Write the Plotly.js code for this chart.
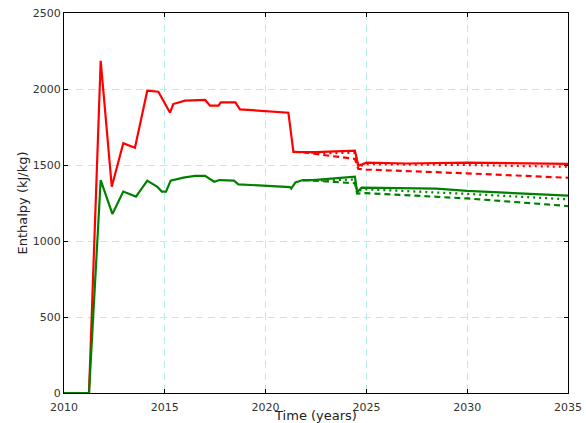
<!DOCTYPE html>
<html>
<head>
<meta charset="utf-8">
<script src="https://cdn.plot.ly/plotly-3.0.1.min.js"></script>
<style>html,body{margin:0;padding:0;background:#fff}#chart{width:586px;height:423px}</style>
</head>
<body>
<div id="chart"></div>
<script>
// Red solid (upper) series
const redYears = [2010, 2011.24, 2011.82, 2012.37, 2012.94, 2013.52, 2014.13, 2014.68, 2015.26, 2015.42, 2016.0, 2017.0, 2017.24, 2017.66, 2017.78, 2018.5, 2018.73, 2021.13, 2021.38, 2022.5, 2024.43, 2024.6, 2025.01, 2027, 2030, 2035];
const redVals  = [0, 0, 2186, 1357, 1643, 1614, 1989, 1982, 1844, 1901, 1923, 1928, 1890, 1890, 1912, 1912, 1866, 1844, 1586, 1585, 1594, 1495, 1515, 1510, 1515, 1508];
// Red dotted scenario
const redDotYears = [2021.38, 2022.0, 2023.0, 2024.43, 2024.6, 2025.0, 2030, 2035];
const redDotVals  = [1586, 1584, 1578, 1580, 1492, 1505, 1500, 1488];
// Red dashed scenario
const redDashYears = [2021.38, 2022.0, 2022.85, 2024.43, 2024.6, 2025.0, 2030, 2035];
const redDashVals  = [1586, 1582, 1566, 1540, 1474, 1470, 1445, 1416];

// Green solid (lower) series
const greenYears = [2010, 2011.24, 2011.82, 2012.4, 2012.94, 2013.57, 2014.13, 2014.63, 2014.85, 2015.06, 2015.29, 2015.92, 2016.5, 2017.0, 2017.45, 2017.71, 2018.43, 2018.65, 2021.21, 2021.27, 2021.48, 2021.85, 2022.34, 2024.43, 2024.54, 2024.76, 2028.48, 2030, 2035];
const greenVals  = [0, 0, 1401, 1178, 1325, 1292, 1397, 1357, 1325, 1325, 1397, 1417, 1428, 1428, 1390, 1401, 1397, 1373, 1355, 1345, 1386, 1401, 1401, 1423, 1320, 1351, 1345, 1330, 1298];
// Green dotted scenario
const greenDotYears = [2021.85, 2022.34, 2023.0, 2024.43, 2024.54, 2025.0, 2030, 2035];
const greenDotVals  = [1401, 1400, 1398, 1405, 1330, 1340, 1310, 1274];
// Green dashed scenario
const greenDashYears = [2021.85, 2022.34, 2023.0, 2024.43, 2024.54, 2025.0, 2030, 2035];
const greenDashVals  = [1401, 1398, 1392, 1380, 1312, 1315, 1280, 1230];

const RED = '#ff0000', GREEN = '#008000';
function tr(x, y, color, dash) {
  return {x: x, y: y, type: 'scatter', mode: 'lines', hoverinfo: 'skip',
          line: {color: color, width: 2.2, dash: dash}};
}
const data = [
  tr(redDashYears, redDashVals, RED, '6px,4px'),
  tr(redDotYears, redDotVals, RED, '2px,4px'),
  tr(redYears, redVals, RED, 'solid'),
  tr(greenDashYears, greenDashVals, GREEN, '6px,4px'),
  tr(greenDotYears, greenDotVals, GREEN, '2px,4px'),
  tr(greenYears, greenVals, GREEN, 'solid')
];

const axisCommon = {
  showline: true, linecolor: '#000', linewidth: 1, mirror: 'ticks',
  ticks: 'inside', ticklen: 4, tickcolor: '#000',
  showgrid: true, gridcolor: '#b5eded', griddash: '7px,5px', gridwidth: 1,
  zeroline: false,
  tickfont: {family: 'DejaVu Sans, sans-serif', size: 11, color: '#333'}
};
const layout = {
  width: 586, height: 423,
  margin: {l: 64, r: 18, t: 13, b: 30},
  paper_bgcolor: '#fff', plot_bgcolor: '#fff',
  showlegend: false,
  xaxis: Object.assign({}, axisCommon, {
    range: [2010, 2035], tickvals: [2010, 2015, 2020, 2025, 2030, 2035],
    ticklabelstandoff: 4,
    title: {text: 'Time (years)', standoff: 3, font: {family: 'DejaVu Sans, sans-serif', size: 13, color: '#222'}}
  }),
  yaxis: Object.assign({}, axisCommon, {
    range: [0, 2500], tickvals: [0, 500, 1000, 1500, 2000, 2500],
    title: {text: 'Enthalpy (kJ/kg)', standoff: 2, font: {family: 'DejaVu Sans, sans-serif', size: 13, color: '#222'}}
  })
};
Plotly.newPlot('chart', data, layout, {staticPlot: true, displayModeBar: false});
</script>
</body>
</html>
